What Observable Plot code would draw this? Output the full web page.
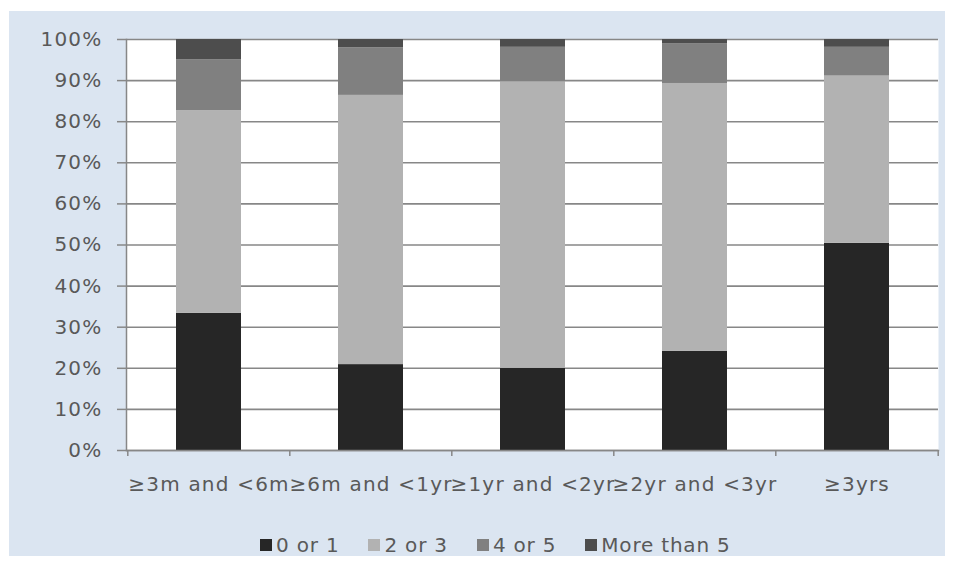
<!DOCTYPE html>
<html>
<head>
<meta charset="utf-8">
<script src="https://cdn.jsdelivr.net/npm/d3@7"></script>
<script src="https://cdn.jsdelivr.net/npm/@observablehq/plot@0.6"></script>
<style>
  html, body { margin: 0; padding: 0; background: #ffffff; }
  #panel {
    position: absolute; left: 9px; top: 11px; width: 936px; height: 545px;
    background: #dbe5f1; font-family: "DejaVu Sans", Verdana, sans-serif; color: #595959;
  }
  #chart { position: absolute; left: 0; top: 0; }
  #chart svg text { letter-spacing: 1.2px; }
  #legend {
    position: absolute; left: 251px; top: 521px; display: flex; align-items: center;
    font-size: 20px; line-height: 26px; white-space: nowrap; letter-spacing: 0.8px;
  }
  .item { display: flex; align-items: center; margin-right: 29px; }
  .item:last-child { margin-right: 0; }
  .sw { width: 12px; height: 12px; margin-right: 4px; display: inline-block; }
</style>
</head>
<body>
<div id="panel">
  <div id="chart"></div>
  <div id="legend"></div>
</div>
<script>
// Time-since groups along the x axis
const groups = ["≥3m and <6m", "≥6m and <1yr", "≥1yr and <2yr", "≥2yr and <3yr", "≥3yrs"];
// Count bands, stacked bottom to top
const bands = ["0 or 1", "2 or 3", "4 or 5", "More than 5"];
const bandColors = ["#262626", "#b2b2b2", "#808080", "#4d4d4d"];
// Share of each group (percent) per band
const share0or1 = [33.4, 20.9, 20.0, 24.1, 50.4];
const share2or3 = [49.3, 65.5, 69.7, 65.2, 40.7];
const share4or5 = [12.4, 11.6, 8.4, 9.6, 7.0];
const shareOver5 = [4.9, 2.0, 1.9, 1.1, 1.9];
// Percent ticks on the y axis
const yTicks = [0, 0.1, 0.2, 0.3, 0.4, 0.5, 0.6, 0.7, 0.8, 0.9, 1];

const series = [share0or1, share2or3, share4or5, shareOver5];
const rows = [];
bands.forEach((b, bi) => groups.forEach((g, gi) => rows.push({group: g, band: b, value: series[bi][gi] / 100})));

const W = 936, H = 500, ML = 117, MR = 7, MT = 28, MB = 61;
const step = (W - ML - MR) / groups.length;
const gridColor = "#878787";

const chart = Plot.plot({
  width: W, height: H,
  marginLeft: ML, marginRight: MR, marginTop: MT, marginBottom: MB,
  style: {background: "transparent", fontFamily: "DejaVu Sans, Verdana, sans-serif", fontSize: "20px", color: "#595959"},
  x: {type: "band", domain: groups, paddingInner: 0.6, paddingOuter: 0.3, label: null},
  y: {domain: [0, 1], label: null},
  color: {domain: bands, range: bandColors},
  marks: [
    Plot.frame({fill: "white", stroke: null}),
    Plot.ruleY(yTicks, {stroke: gridColor, strokeWidth: 1.6}),
    Plot.barY(rows, {x: "group", y: "value", fill: "band", order: bands}),
    Plot.frame({anchor: "left", stroke: gridColor, strokeWidth: 1.5}),
    Plot.frame({anchor: "bottom", stroke: gridColor, strokeWidth: 1.5}),
    // category dividers below the baseline
    Plot.ruleX(groups, {x: d => d, y1: 0, y2: 0, insetBottom: -6, dx: -step / 2, stroke: gridColor, strokeWidth: 1.5}),
    Plot.ruleX(groups.slice(-1), {x: d => d, y1: 0, y2: 0, insetBottom: -6, dx: step / 2, stroke: gridColor, strokeWidth: 1.5}),
    Plot.axisY({ticks: yTicks, tickFormat: d3.format(".0%"), tickSize: 9, tickPadding: 15, stroke: gridColor, strokeWidth: 1.5, fill: "#595959", fontSize: 20}),
    Plot.axisX({tickSize: 0, tickPadding: 26, fill: "#595959", fontSize: 20})
  ]
});
document.getElementById("chart").appendChild(chart);

const legend = document.getElementById("legend");
bands.forEach((b, i) => {
  const item = document.createElement("div");
  item.className = "item";
  const sw = document.createElement("span");
  sw.className = "sw";
  sw.style.background = bandColors[i];
  item.appendChild(sw);
  item.appendChild(document.createTextNode(b));
  legend.appendChild(item);
});
</script>
</body>
</html>
